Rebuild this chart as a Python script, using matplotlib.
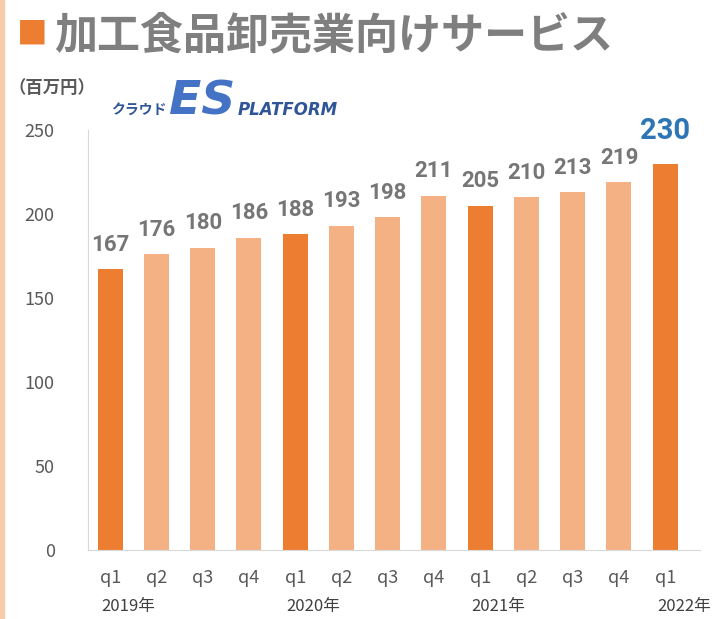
import matplotlib.pyplot as plt
from matplotlib.patches import Rectangle

plt.rcParams['font.family'] = ['Noto Sans CJK JP', 'DejaVu Sans']

quarters = ['q1', 'q2', 'q3', 'q4', 'q1', 'q2', 'q3', 'q4', 'q1', 'q2', 'q3', 'q4', 'q1']
values = [167, 176, 180, 186, 188, 193, 198, 211, 205, 210, 213, 219, 230]
years = ['2019年', '2020年', '2021年', '2022年']
year_pos = [0.4, 4.4, 8.4, 12.4]

dark = '#ED7D31'
light = '#F4B183'
gray = '#7F7F7F'

colors = [dark if q == 'q1' else light for q in quarters]

fig = plt.figure(figsize=(7.19, 6.19), dpi=100)
ax = fig.add_axes([0.1224, 0.1114, 0.851, 0.6786])

x = list(range(len(values)))
ax.bar(x, values, width=0.54, color=colors)

ax.set_xlim(-0.48, 12.75)
ax.set_ylim(0, 250)
ax.set_yticks([0, 50, 100, 150, 200, 250])
ax.set_xticks(x)
ax.set_xticklabels(quarters)
ax.tick_params(axis='both', length=0, labelsize=13, labelcolor='#595959')
ax.tick_params(axis='x', pad=14)
ax.tick_params(axis='y', pad=24)
for s in ['top', 'right']:
    ax.spines[s].set_visible(False)
ax.spines['left'].set_color('#D9D9D9')
ax.spines['bottom'].set_color('#D9D9D9')

# value labels
for i, v in enumerate(values):
    if i == len(values) - 1:
        ax.text(i, v + 11, str(v), ha='center', va='bottom', fontsize=21,
                fontweight='bold', color='#2E75B6', family='Roboto')
    else:
        ax.text(i, v + 8, str(v), ha='center', va='bottom', fontsize=16,
                fontweight='bold', color='#767676', family='Roboto')

# year labels under the quarters
for p, y in zip(year_pos, years):
    ax.text(p, -0.115, y, transform=ax.get_xaxis_transform(), ha='center',
            va='top', fontsize=12, color='#404040')

# title
fig.text(0.024, 0.943, '■', fontsize=22, color=dark, va='center', ha='left')
fig.text(0.075, 0.943, '加工食品卸売業向けサービス', fontsize=31, fontweight='bold',
         color=gray, va='center', ha='left')
fig.text(0.012, 0.858, '（百万円）', fontsize=12.5, fontweight='bold', color='#595959',
         va='center', ha='left')

# logo text
fig.text(0.155, 0.823, 'クラウド', fontsize=10, fontweight='bold', style='italic',
         color='#2F5597', va='center', ha='left')
fig.text(0.235, 0.835, 'ES', fontsize=34, fontweight='bold', style='italic',
         color='#4472C4', va='center', ha='left', family='DejaVu Sans')
fig.text(0.33, 0.823, 'PLATFORM', fontsize=12, fontweight='bold', style='italic',
         color='#2F5597', va='center', ha='left', family='DejaVu Sans')

# left strip
fig.patches.append(Rectangle((0, 0), 0.006, 1, transform=fig.transFigure,
                             color='#F8CBAD', zorder=0))

fig.savefig('out.png', dpi=100)
